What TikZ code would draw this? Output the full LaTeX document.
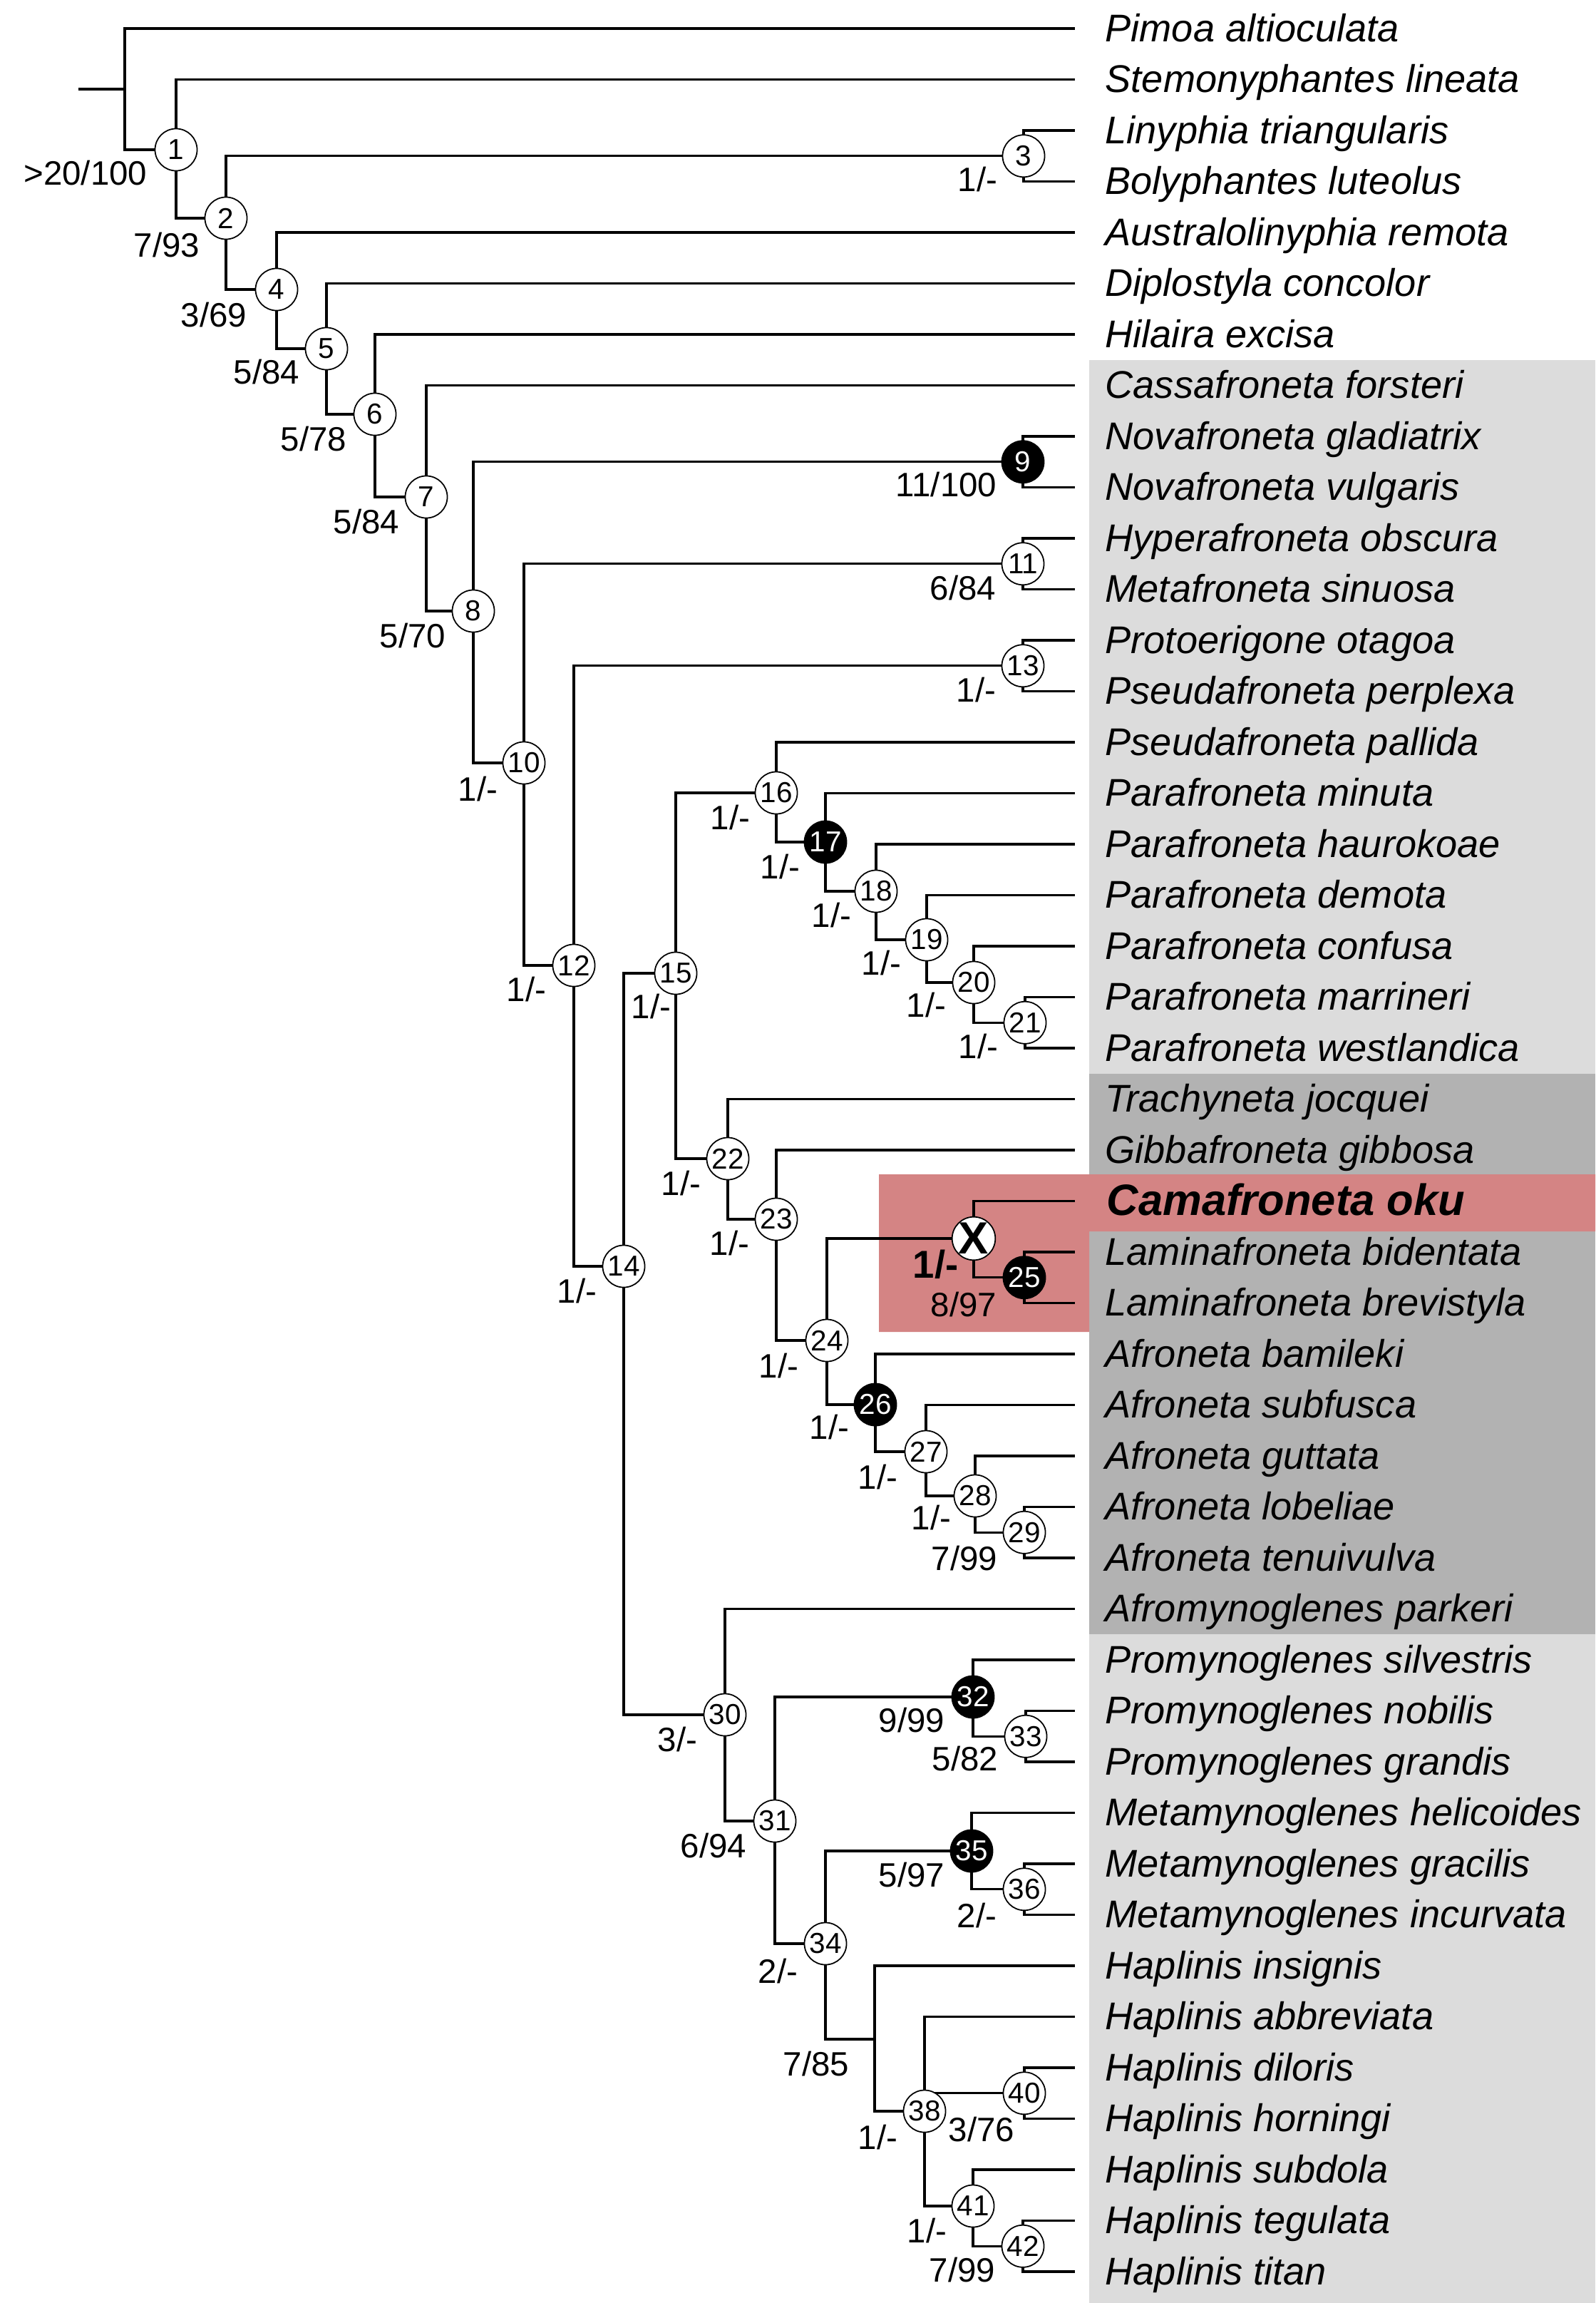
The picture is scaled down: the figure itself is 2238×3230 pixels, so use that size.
\documentclass[tikz,border=0pt]{standalone}
\usepackage{fontspec}
\setmainfont{Liberation Sans}
\usepackage{tikz}
\definecolor{shadelight}{HTML}{DCDCDC}
\definecolor{shadedark}{HTML}{B2B2B2}
\definecolor{shadered}{HTML}{D48484}

\begin{document}
\begin{tikzpicture}[
    x=0.01cm, y=-0.01cm,
    branch/.style={line width=0.9pt},
    nd/.style={circle, draw, line width=0.5pt, fill=white, minimum size=0.59cm, inner sep=0pt, font=\fontsize{11.5}{12}\selectfont},
    ndfill/.style={nd, fill=black, text=white},
    supp/.style={anchor=east, inner sep=0pt, font=\fontsize{13.5}{15}\selectfont},
    taxon/.style={anchor=base west, inner sep=0pt, font=\fontsize{15.4}{18}\selectfont\itshape}
]
    \useasboundingbox (0,0) rectangle (2238,3230);

    % Shaded groups
    \fill[shadelight] (1528,505) rectangle (2238,3230);
    \fill[shadedark] (1528,1506) rectangle (2238,2292);
    \fill[shadered] (1233,1647) -- (2238,1647) -- (2238,1727) -- (1528,1727) -- (1528,1868) -- (1233,1868) -- cycle;

    % Tips
    \coordinate (t0) at (1508,40);      \node[taxon] (l0) at (1550,58) {Pimoa altioculata};
    \coordinate (t1) at (1508,111.5);   \node[taxon] (l1) at (1550,129.5) {Stemonyphantes lineata};
    \coordinate (t2) at (1508,183);     \node[taxon] (l2) at (1550,201) {Linyphia triangularis};
    \coordinate (t3) at (1508,254.5);   \node[taxon] (l3) at (1550,272.5) {Bolyphantes luteolus};
    \coordinate (t4) at (1508,326);     \node[taxon] (l4) at (1550,344) {Australolinyphia remota};
    \coordinate (t5) at (1508,397.5);   \node[taxon] (l5) at (1550,415.5) {Diplostyla concolor};
    \coordinate (t6) at (1508,469);     \node[taxon] (l6) at (1550,487) {Hilaira excisa};
    \coordinate (t7) at (1508,540.5);   \node[taxon] (l7) at (1550,558.5) {Cassafroneta forsteri};
    \coordinate (t8) at (1508,612);     \node[taxon] (l8) at (1550,630) {Novafroneta gladiatrix};
    \coordinate (t9) at (1508,683.5);   \node[taxon] (l9) at (1550,701.5) {Novafroneta vulgaris};
    \coordinate (t10) at (1508,755);    \node[taxon] (l10) at (1550,773) {Hyperafroneta obscura};
    \coordinate (t11) at (1508,826.5);  \node[taxon] (l11) at (1550,844.5) {Metafroneta sinuosa};
    \coordinate (t12) at (1508,898);    \node[taxon] (l12) at (1550,916) {Protoerigone otagoa};
    \coordinate (t13) at (1508,969.5);  \node[taxon] (l13) at (1550,987.5) {Pseudafroneta perplexa};
    \coordinate (t14) at (1508,1041);   \node[taxon] (l14) at (1550,1059) {Pseudafroneta pallida};
    \coordinate (t15) at (1508,1112.5); \node[taxon] (l15) at (1550,1130.5) {Parafroneta minuta};
    \coordinate (t16) at (1508,1184);   \node[taxon] (l16) at (1550,1202) {Parafroneta haurokoae};
    \coordinate (t17) at (1508,1255.5); \node[taxon] (l17) at (1550,1273.5) {Parafroneta demota};
    \coordinate (t18) at (1508,1327);   \node[taxon] (l18) at (1550,1345) {Parafroneta confusa};
    \coordinate (t19) at (1508,1398.5); \node[taxon] (l19) at (1550,1416.5) {Parafroneta marrineri};
    \coordinate (t20) at (1508,1470);   \node[taxon] (l20) at (1550,1488) {Parafroneta westlandica};
    \coordinate (t21) at (1508,1541.5); \node[taxon] (l21) at (1550,1559.5) {Trachyneta jocquei};
    \coordinate (t22) at (1508,1613);   \node[taxon] (l22) at (1550,1631) {Gibbafroneta gibbosa};
    \coordinate (t23) at (1508,1684.5); \node[taxon, font=\fontsize{17.5}{20}\selectfont\bfseries\itshape] (l23) at (1552,1704) {Camafroneta oku};
    \coordinate (t24) at (1508,1756);   \node[taxon] (l24) at (1550,1774) {Laminafroneta bidentata};
    \coordinate (t25) at (1508,1827.5); \node[taxon] (l25) at (1550,1845.5) {Laminafroneta brevistyla};
    \coordinate (t26) at (1508,1899);   \node[taxon] (l26) at (1550,1917) {Afroneta bamileki};
    \coordinate (t27) at (1508,1970.5); \node[taxon] (l27) at (1550,1988.5) {Afroneta subfusca};
    \coordinate (t28) at (1508,2042);   \node[taxon] (l28) at (1550,2060) {Afroneta guttata};
    \coordinate (t29) at (1508,2113.5); \node[taxon] (l29) at (1550,2131.5) {Afroneta lobeliae};
    \coordinate (t30) at (1508,2185);   \node[taxon] (l30) at (1550,2203) {Afroneta tenuivulva};
    \coordinate (t31) at (1508,2256.5); \node[taxon] (l31) at (1550,2274.5) {Afromynoglenes parkeri};
    \coordinate (t32) at (1508,2328);   \node[taxon] (l32) at (1550,2346) {Promynoglenes silvestris};
    \coordinate (t33) at (1508,2399.5); \node[taxon] (l33) at (1550,2417.5) {Promynoglenes nobilis};
    \coordinate (t34) at (1508,2471);   \node[taxon] (l34) at (1550,2489) {Promynoglenes grandis};
    \coordinate (t35) at (1508,2542.5); \node[taxon] (l35) at (1550,2560.5) {Metamynoglenes helicoides};
    \coordinate (t36) at (1508,2614);   \node[taxon] (l36) at (1550,2632) {Metamynoglenes gracilis};
    \coordinate (t37) at (1508,2685.5); \node[taxon] (l37) at (1550,2703.5) {Metamynoglenes incurvata};
    \coordinate (t38) at (1508,2757);   \node[taxon] (l38) at (1550,2775) {Haplinis insignis};
    \coordinate (t39) at (1508,2828.5); \node[taxon] (l39) at (1550,2846.5) {Haplinis abbreviata};
    \coordinate (t40) at (1508,2900);   \node[taxon] (l40) at (1550,2918) {Haplinis diloris};
    \coordinate (t41) at (1508,2971.5); \node[taxon] (l41) at (1550,2989.5) {Haplinis horningi};
    \coordinate (t42) at (1508,3043);   \node[taxon] (l42) at (1550,3061) {Haplinis subdola};
    \coordinate (t43) at (1508,3114.5); \node[taxon] (l43) at (1550,3132.5) {Haplinis tegulata};
    \coordinate (t44) at (1508,3186);   \node[taxon] (l44) at (1550,3204) {Haplinis titan};

    % Internal nodes
    \coordinate (stub) at (110,125);
    \coordinate (root) at (175,125);
    \coordinate (c1) at (247,210);
    \coordinate (c2) at (317,306);
    \coordinate (c3) at (1436,218.75);
    \coordinate (c4) at (388,406);
    \coordinate (c5) at (458,489);
    \coordinate (c6) at (526,581);
    \coordinate (c7) at (598,697);
    \coordinate (c8) at (664,857);
    \coordinate (c9) at (1435,647.75);
    \coordinate (c10) at (735,1070);
    \coordinate (c11) at (1435,790.75);
    \coordinate (c12) at (805,1354);
    \coordinate (c13) at (1435,933.75);
    \coordinate (c14) at (875,1776);
    \coordinate (c15) at (948,1365);
    \coordinate (c16) at (1089,1112);
    \coordinate (c17) at (1158,1181);
    \coordinate (c18) at (1229,1250);
    \coordinate (c19) at (1300,1318);
    \coordinate (c20) at (1366,1378);
    \coordinate (c21) at (1438,1434.25);
    \coordinate (c22) at (1021,1625);
    \coordinate (c23) at (1089,1710);
    \coordinate (c24) at (1160,1880);
    \coordinate (cX) at (1366,1737);
    \coordinate (c25) at (1437,1791.75);
    \coordinate (c26) at (1228,1970);
    \coordinate (c27) at (1299,2036);
    \coordinate (c28) at (1368,2098);
    \coordinate (c29) at (1437,2149.25);
    \coordinate (c30) at (1017,2405);
    \coordinate (c31) at (1087,2554);
    \coordinate (c32) at (1365,2380);
    \coordinate (c33) at (1439,2435.25);
    \coordinate (c34) at (1158,2726);
    \coordinate (c35) at (1363,2596);
    \coordinate (c36) at (1437,2649.75);
    \coordinate (c37) at (1227,2860);
    \coordinate (c38) at (1297,2961);
    \coordinate (c40) at (1437,2935.75);
    \coordinate (c41) at (1365,3094);
    \coordinate (c42) at (1435,3150.25);

    % Branches
    \draw[branch] (stub) -- (root);
    \draw[branch] (root) |- (t0);   \draw[branch] (root) |- (c1);
    \draw[branch] (c1) |- (t1);     \draw[branch] (c1) |- (c2);
    \draw[branch] (c2) |- (c3);     \draw[branch] (c2) |- (c4);
    \draw[branch] (c3) |- (t2);     \draw[branch] (c3) |- (t3);
    \draw[branch] (c4) |- (t4);     \draw[branch] (c4) |- (c5);
    \draw[branch] (c5) |- (t5);     \draw[branch] (c5) |- (c6);
    \draw[branch] (c6) |- (t6);     \draw[branch] (c6) |- (c7);
    \draw[branch] (c7) |- (t7);     \draw[branch] (c7) |- (c8);
    \draw[branch] (c8) |- (c9);     \draw[branch] (c8) |- (c10);
    \draw[branch] (c9) |- (t8);     \draw[branch] (c9) |- (t9);
    \draw[branch] (c10) |- (c11);   \draw[branch] (c10) |- (c12);
    \draw[branch] (c11) |- (t10);   \draw[branch] (c11) |- (t11);
    \draw[branch] (c12) |- (c13);   \draw[branch] (c12) |- (c14);
    \draw[branch] (c13) |- (t12);   \draw[branch] (c13) |- (t13);
    \draw[branch] (c14) |- (c15);   \draw[branch] (c14) |- (c30);
    \draw[branch] (c15) |- (c16);   \draw[branch] (c15) |- (c22);
    \draw[branch] (c16) |- (t14);   \draw[branch] (c16) |- (c17);
    \draw[branch] (c17) |- (t15);   \draw[branch] (c17) |- (c18);
    \draw[branch] (c18) |- (t16);   \draw[branch] (c18) |- (c19);
    \draw[branch] (c19) |- (t17);   \draw[branch] (c19) |- (c20);
    \draw[branch] (c20) |- (t18);   \draw[branch] (c20) |- (c21);
    \draw[branch] (c21) |- (t19);   \draw[branch] (c21) |- (t20);
    \draw[branch] (c22) |- (t21);   \draw[branch] (c22) |- (c23);
    \draw[branch] (c23) |- (t22);   \draw[branch] (c23) |- (c24);
    \draw[branch] (c24) |- (cX);    \draw[branch] (c24) |- (c26);
    \draw[branch] (cX) |- (t23);    \draw[branch] (cX) |- (c25);
    \draw[branch] (c25) |- (t24);   \draw[branch] (c25) |- (t25);
    \draw[branch] (c26) |- (t26);   \draw[branch] (c26) |- (c27);
    \draw[branch] (c27) |- (t27);   \draw[branch] (c27) |- (c28);
    \draw[branch] (c28) |- (t28);   \draw[branch] (c28) |- (c29);
    \draw[branch] (c29) |- (t29);   \draw[branch] (c29) |- (t30);
    \draw[branch] (c30) |- (t31);   \draw[branch] (c30) |- (c31);
    \draw[branch] (c31) |- (c32);   \draw[branch] (c31) |- (c34);
    \draw[branch] (c32) |- (t32);   \draw[branch] (c32) |- (c33);
    \draw[branch] (c33) |- (t33);   \draw[branch] (c33) |- (t34);
    \draw[branch] (c34) |- (c35);   \draw[branch] (c34) |- (c37);
    \draw[branch] (c35) |- (t35);   \draw[branch] (c35) |- (c36);
    \draw[branch] (c36) |- (t36);   \draw[branch] (c36) |- (t37);
    \draw[branch] (c37) |- (t38);   \draw[branch] (c37) |- (c38);
    \draw[branch] (c38) |- (t39);   \draw[branch] (c38) |- (c40);   \draw[branch] (c38) |- (c41);
    \draw[branch] (c40) |- (t40);   \draw[branch] (c40) |- (t41);
    \draw[branch] (c41) |- (t42);   \draw[branch] (c41) |- (c42);
    \draw[branch] (c42) |- (t43);   \draw[branch] (c42) |- (t44);

    % Node circles
    \node[nd] (n1) at (c1) {1};
    \node[nd] (n2) at (c2) {2};
    \node[nd] (n3) at (c3) {3};
    \node[nd] (n4) at (c4) {4};
    \node[nd] (n5) at (c5) {5};
    \node[nd] (n6) at (c6) {6};
    \node[nd] (n7) at (c7) {7};
    \node[nd] (n8) at (c8) {8};
    \node[ndfill] (n9) at (c9) {9};
    \node[nd] (n10) at (c10) {10};
    \node[nd] (n11) at (c11) {11};
    \node[nd] (n12) at (c12) {12};
    \node[nd] (n13) at (c13) {13};
    \node[nd] (n14) at (c14) {14};
    \node[nd] (n15) at (c15) {15};
    \node[nd] (n16) at (c16) {16};
    \node[ndfill] (n17) at (c17) {17};
    \node[nd] (n18) at (c18) {18};
    \node[nd] (n19) at (c19) {19};
    \node[nd] (n20) at (c20) {20};
    \node[nd] (n21) at (c21) {21};
    \node[nd] (n22) at (c22) {22};
    \node[nd] (n23) at (c23) {23};
    \node[nd] (n24) at (c24) {24};
    \node[nd, font=\fontsize{18}{18}\selectfont\bfseries] (nX) at (cX) {X};
    \node[ndfill] (n25) at (c25) {25};
    \node[ndfill] (n26) at (c26) {26};
    \node[nd] (n27) at (c27) {27};
    \node[nd] (n28) at (c28) {28};
    \node[nd] (n29) at (c29) {29};
    \node[nd] (n30) at (c30) {30};
    \node[nd] (n31) at (c31) {31};
    \node[ndfill] (n32) at (c32) {32};
    \node[nd] (n33) at (c33) {33};
    \node[nd] (n34) at (c34) {34};
    \node[ndfill] (n35) at (c35) {35};
    \node[nd] (n36) at (c36) {36};
    \node[nd] (n38) at (c38) {38};
    \node[nd] (n40) at (c40) {40};
    \node[nd] (n41) at (c41) {41};
    \node[nd] (n42) at (c42) {42};

    % Support values
    \node[supp] (s1) at (207,243) {>20/100};
    \node[supp] (s2) at (281,344) {7/93};
    \node[supp] (s3) at (1400,252) {1/-};
    \node[supp] (s4) at (347,442) {3/69};
    \node[supp] (s5) at (421,522) {5/84};
    \node[supp] (s6) at (487,616) {5/78};
    \node[supp] (s7) at (561,732) {5/84};
    \node[supp] (s8) at (626,892) {5/70};
    \node[supp] (s9) at (1399,680) {11/100};
    \node[supp] (s10) at (699,1107) {1/-};
    \node[supp] (s11) at (1398,825) {6/84};
    \node[supp] (s12) at (767,1388) {1/-};
    \node[supp] (s13) at (1398,968) {1/-};
    \node[supp] (s14) at (838,1811) {1/-};
    \node[supp] (s15) at (942,1412) {1/-};
    \node[supp] (s16) at (1053,1147) {1/-};
    \node[supp] (s17) at (1123,1216) {1/-};
    \node[supp] (s18) at (1195,1284) {1/-};
    \node[supp] (s19) at (1265,1351) {1/-};
    \node[supp] (s20) at (1328,1410) {1/-};
    \node[supp] (s21) at (1401,1468) {1/-};
    \node[supp] (s22) at (984,1660) {1/-};
    \node[supp] (s23) at (1052,1744) {1/-};
    \node[supp, font=\fontsize{15.5}{17}\selectfont\bfseries] (sX) at (1345,1773) {1/-};
    \node[supp] (s25) at (1399,1830) {8/97};
    \node[supp] (s24) at (1121,1916) {1/-};
    \node[supp] (s26) at (1192,2002) {1/-};
    \node[supp] (s27) at (1260,2072) {1/-};
    \node[supp] (s28) at (1335,2129) {1/-};
    \node[supp] (s29) at (1400,2186) {7/99};
    \node[supp] (s30) at (979,2439) {3/-};
    \node[supp] (s31) at (1048,2588) {6/94};
    \node[supp] (s32) at (1326,2412) {9/99};
    \node[supp] (s33) at (1401,2466) {5/82};
    \node[supp] (s34) at (1120,2764) {2/-};
    \node[supp] (s35) at (1326,2629) {5/97};
    \node[supp] (s36) at (1399,2686) {2/-};
    \node[supp] (s37) at (1192,2894) {7/85};
    \node[supp] (s38) at (1260,2997) {1/-};
    \node[supp] (s40) at (1424,2986) {3/76};
    \node[supp] (s41) at (1329,3128) {1/-};
    \node[supp] (s42) at (1397,3183) {7/99};

\end{tikzpicture}
\end{document}
